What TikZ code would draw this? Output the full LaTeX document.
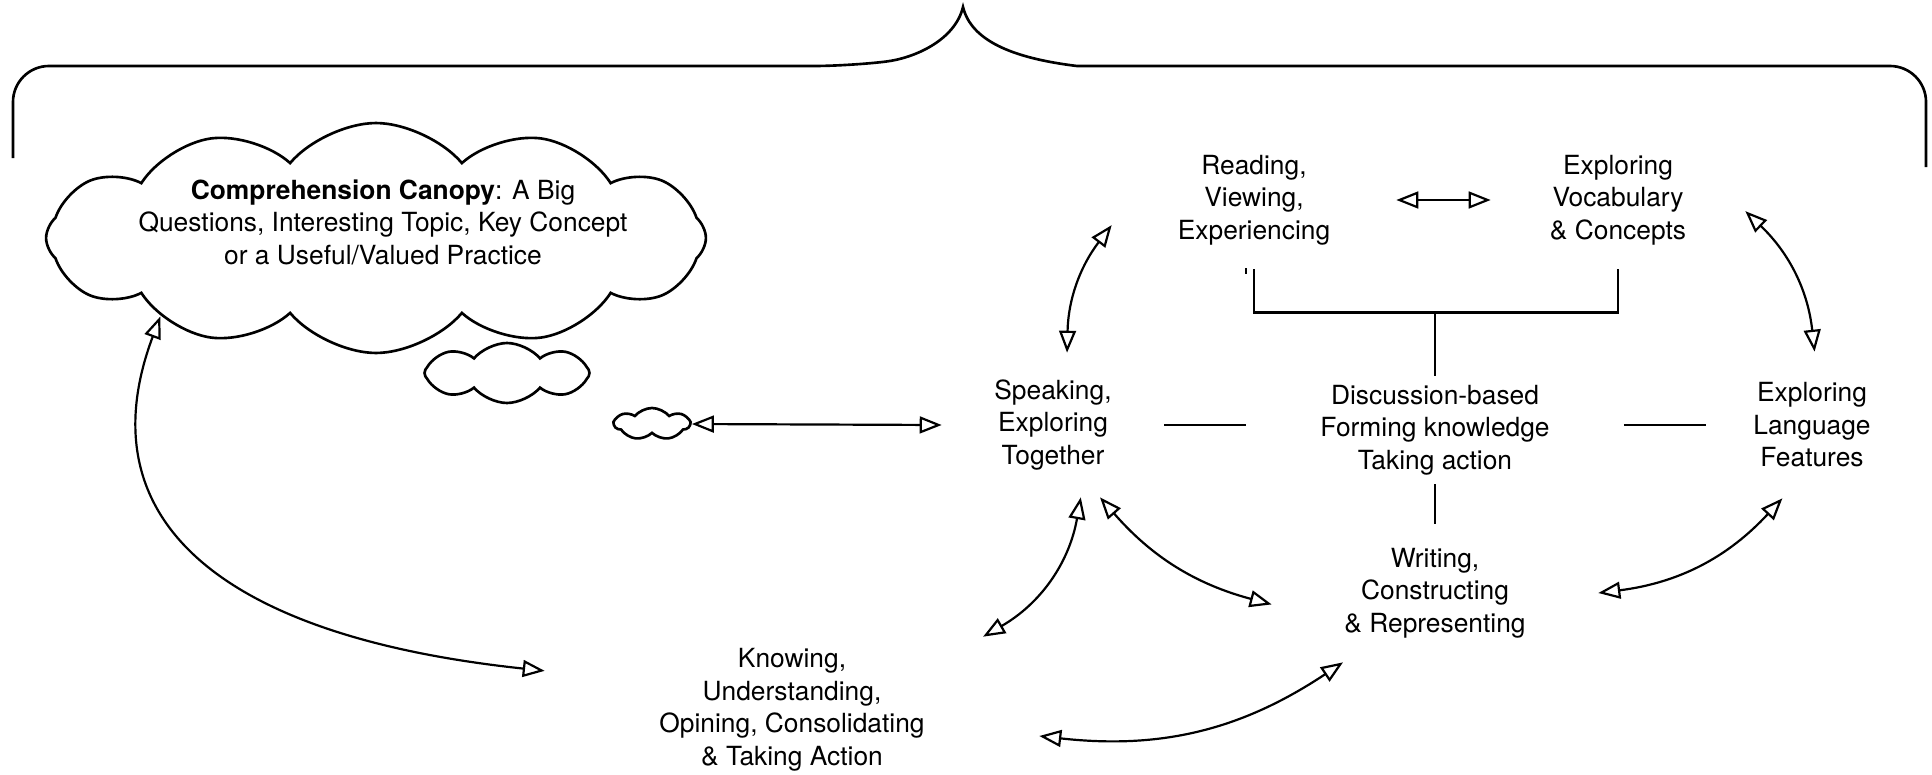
\documentclass[tikz,border=0pt]{standalone}
\usepackage{fontspec}
\setmainfont{TeX Gyre Heros}
\usetikzlibrary{arrows.meta,shapes.symbols}

\tikzset{
  stage/.style={align=center, inner sep=0pt, font=\fontsize{15}{18.5}\selectfont},
  link/.style={<->, line width=1.25pt},
  puff/.style={cloud, cloud ignores aspect, draw, line width=1.5pt, inner sep=0pt},
  rule/.style={line width=1.5pt}
}

\begin{document}
\begin{tikzpicture}[x=0.02cm, y=-0.02cm, >={Triangle[open,length=12.5pt,width=9.6pt]}]
  \useasboundingbox (0,0) rectangle (1932,774);

  % Brace over the whole thing
  \draw[rule] (13,158) [rounded corners=0.72cm] -- (13,66) -- (850,66) [sharp corners] .. controls (915,58) and (955,40) .. (963,7) .. controls (971,40) and (1011,58) .. (1077,66) [rounded corners=0.72cm] -- (1926,66) -- (1926,167);

  % Clouds on the left
  \node[puff, cloud puffs=12, cloud puff arc=100, minimum width=13.2cm, minimum height=4.6cm] (canopy) at (376,238) {};
  \node[stage] (canopytext) at (383,222) {\textbf{Comprehension Canopy}: A Big\\Questions, Interesting Topic, Key Concept\\or a Useful/Valued Practice};
  \node[puff, cloud puffs=8, cloud puff arc=100, minimum width=3.3cm, minimum height=1.2cm] (thought) at (507,373) {};
  \node[puff, cloud puffs=7, cloud puff arc=100, minimum width=1.5cm, minimum height=0.64cm] (bubble) at (652,424) {};

  % The modes around the centre
  \node[stage, minimum width=4.44cm, minimum height=2.88cm] (speak) at (1053,425) {Speaking,\\Exploring\\Together};
  \node[stage, minimum width=7.54cm, minimum height=2.16cm] (disc) at (1435,430) {Discussion-based\\Forming knowledge\\Taking action};
  \node[stage, minimum width=4.24cm, minimum height=2.92cm] (lang) at (1812,425) {Exploring\\Language\\Features};
  \node[stage, minimum width=5.68cm, minimum height=2.76cm] (read) at (1254,200) {Reading,\\Viewing,\\Experiencing};
  \node[stage, minimum width=5.08cm, minimum height=2.76cm] (vocab) at (1618,200) {Exploring\\Vocabulary\\\& Concepts};
  \node[stage, minimum width=6.52cm, minimum height=2.76cm] (write) at (1435,593) {Writing,\\Constructing\\\& Representing};
  \node[stage, minimum width=9.88cm, minimum height=2.92cm] (know) at (792,710) {Knowing,\\Understanding,\\Opining, Consolidating\\\& Taking Action};

  % Plain rules joining the centre
  \draw[rule] (read.south) -- ++(0,43) -| (vocab.south);
  \draw[rule] (disc.north) -- ++(0,-64);
  \draw[rule] (disc.south) -- (write.north);
  \draw[rule] (speak.east) -- (speak.east -| disc.west);
  \draw[rule] (lang.west -| disc.east) -- (lang.west);
  \draw[line width=1.1pt] (read.south) ++(-8,-1) -- ++(0,6);

  % Two-way arrows
  \draw[link] (canopy.200) .. controls +(-75,200) and +(-330,-35) .. (know.171);
  \draw[link] (bubble.east) -- (speak.west);
  \draw[link] (read.east) -- (vocab.west);
  \draw[link] (speak.79) to[bend left=18] (read.190);
  \draw[link] (vocab.-5) to[bend left=20] (lang.88);
  \draw[link] (speak.-69) to[bend left=25] (know.21);
  \draw[link] (speak.-57) to[bend right=17] (write.184);
  \draw[link] (write.0) to[bend right=20] (lang.-112);
  \draw[link] (know.-6) to[bend right=20] (write.-143);
\end{tikzpicture}
\end{document}
